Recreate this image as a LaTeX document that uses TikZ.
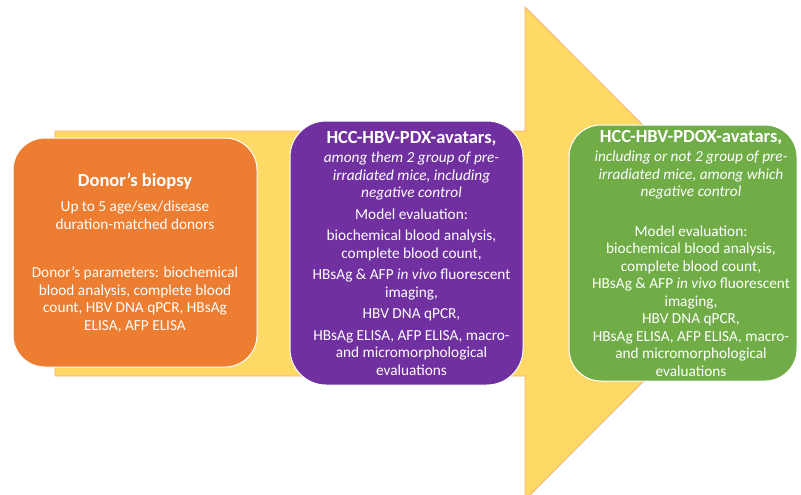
\documentclass[tikz,border=0pt]{standalone}
\usepackage{fontspec}
\setmainfont{Carlito}
\definecolor{DonorOrange}{RGB}{237, 125, 49}
\definecolor{AvatarPurple}{RGB}{112, 48, 160}
\definecolor{OrthoGreen}{RGB}{112, 173, 71}
\definecolor{ArrowGold}{RGB}{255, 217, 102}
\definecolor{ArrowEdge}{RGB}{244, 177, 110}
\newcommand{\stagehead}[1]{{\fontsize{18.5}{20}\selectfont\bfseries #1}}

\begin{document}
\begin{tikzpicture}[x=1pt, y=-1pt,
    stage/.style={draw=white, line width=1pt, rounded corners=32pt, inner sep=0pt},
    stagetext/.style={text=white, align=center, inner sep=0pt,
        font=\fontsize{15.3}{17.5}\selectfont}]
    \useasboundingbox (0,0) rectangle (801,495);

    % Flecha de fondo
    \draw[ArrowEdge, fill=ArrowGold, line width=0.8pt]
        (55,131) -- (525,131) -- (525,7) -- (771,253.5) -- (525,500)
        -- (525,376) -- (55,376) -- cycle;

    % Biopsia del donante
    \node[stage, fill=DonorOrange, minimum width=244pt, minimum height=229pt]
        (donor) at (135,252.5) {};
    \node[stagetext] (donortext) at (donor.center) {%
        \stagehead{Donor’s biopsy}\\[8pt]
        Up to 5 age/sex/disease\\
        duration-matched donors\\[31pt]
        Donor’s parameters: biochemical\\
        blood analysis, complete blood\\
        count, HBV DNA qPCR, HBsAg\\
        ELISA, AFP ELISA};

    % Avatares PDX
    \node[stage, fill=AvatarPurple, minimum width=233pt, minimum height=264pt,
        rounded corners=36pt] (pdx) at (406.5,253) {};
    \node[stagetext] (pdxtext) at ([xshift=5pt]pdx.center) {%
        \stagehead{HCC-HBV-PDX-avatars,}\\[2pt]
        \textit{among them 2 group of pre-}\\
        \textit{irradiated mice, including}\\
        \textit{negative control}\\[4pt]
        Model evaluation:\\[4pt]
        biochemical blood analysis,\\
        complete blood count,\\[4pt]
        HBsAg \& AFP \textit{in vivo} fluorescent\\
        imaging,\\[4pt]
        HBV DNA qPCR,\\[4pt]
        HBsAg ELISA, AFP ELISA, macro-\\
        and micromorphological\\
        evaluations};

    % Avatares PDOX
    \node[stage, fill=OrthoGreen, minimum width=228pt, minimum height=256pt]
        (pdox) at (683,253) {};
    \node[stagetext] (pdoxtext) at ([xshift=8pt]pdox.center) {%
        \stagehead{HCC-HBV-PDOX-avatars,}\\[2pt]
        \textit{including or not 2 group of pre-}\\
        \textit{irradiated mice, among which}\\
        \textit{negative control}\\[22pt]
        Model evaluation:\\
        biochemical blood analysis,\\
        complete blood count,\\
        HBsAg \& AFP \textit{in vivo} fluorescent\\
        imaging,\\
        HBV DNA qPCR,\\
        HBsAg ELISA, AFP ELISA, macro-\\
        and micromorphological\\
        evaluations};
\end{tikzpicture}
\end{document}
